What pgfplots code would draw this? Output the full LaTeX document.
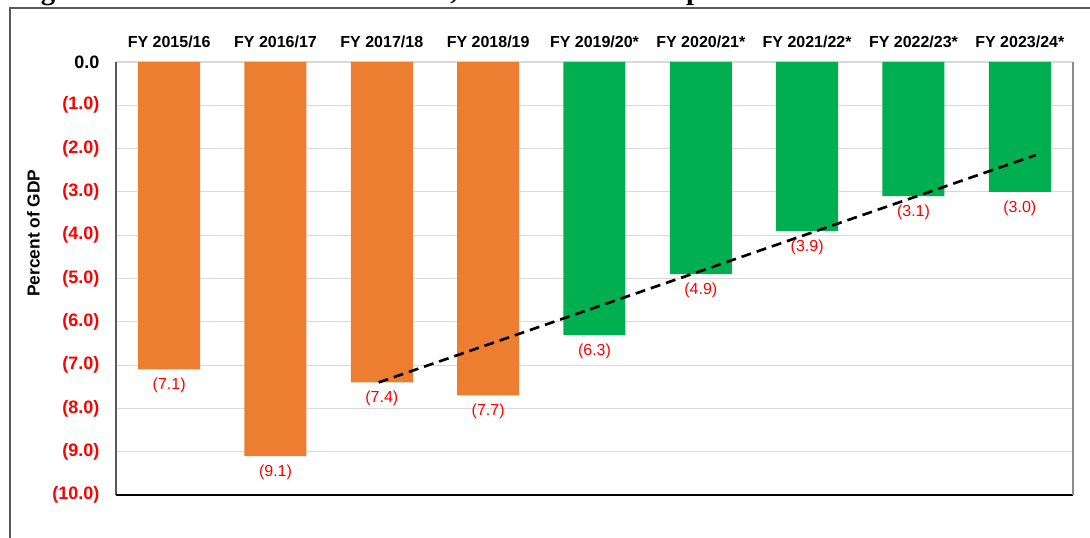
\documentclass[border=0pt]{standalone}
\usepackage{fontspec}
\setmainfont{Liberation Sans}
\newfontfamily\titleserif{Liberation Serif}
\usepackage{pgfplots}
\usepackage{pgfplotstable}
\pgfplotsset{compat=1.18}
\definecolor{barorange}{HTML}{ED7D31}
\definecolor{bargreen}{HTML}{00B050}
\definecolor{gridgray}{HTML}{D9D9D9}
\definecolor{framegray}{HTML}{595959}
\pgfplotstableread{
x y lab
0 -7.1 (7.1)
1 -9.1 (9.1)
2 -7.4 (7.4)
3 -7.7 (7.7)
}\orangedata
\pgfplotstableread{
x y lab
4 -6.3 (6.3)
5 -4.9 (4.9)
6 -3.9 (3.9)
7 -3.1 (3.1)
8 -3.0 (3.0)
}\greendata
\begin{document}
\begin{tikzpicture}
\useasboundingbox (0,0) rectangle (817.5pt,402.75pt);
% partially visible title (cut off by the page edge, as in the reference)
\node[anchor=base west, inner sep=0pt, font=\titleserif\bfseries\fontsize{21.5}{24}\selectfont] at (11.25pt,403.4pt)
  {Figure 1: Fiscal Consolidation Path, Fiscal Deficit as a percent of GDP};
% outer frame
\draw[framegray, line width=1.5pt] (7.5pt,-3pt) -- (7.5pt,396.75pt) -- (825pt,396.75pt);
\begin{axis}[
  at={(87pt,31.5pt)}, anchor=south west,
  scale only axis, width=717.75pt, height=324.75pt,
  xmin=-0.5, xmax=8.5, ymin=-10, ymax=0,
  axis line style={draw=none},
  xtick={0,...,8},
  xticklabels={FY 2015/16,FY 2016/17,FY 2017/18,FY 2018/19,FY 2019/20*,FY 2020/21*,FY 2021/22*,FY 2022/23*,FY 2023/24*},
  xticklabel pos=upper,
  xticklabel style={font=\bfseries\fontsize{12}{14}\selectfont, yshift=3pt},
  ytick={-10,...,0},
  yticklabels={(10.0),(9.0),(8.0),(7.0),(6.0),(5.0),(4.0),(3.0),(2.0),(1.0),\textcolor{black}{0.0}},
  yticklabel style={font=\bfseries\fontsize{13.5}{15}\selectfont, text=red, xshift=-9pt},
  tick style={draw=none},
  ymajorgrids, grid style={gridgray, line width=0.8pt},
  ylabel={Percent of GDP},
  ylabel style={font=\bfseries\fontsize{13}{15}\selectfont, at={(rel axis cs:0,0.605)}, anchor=center, rotate=0, yshift=62pt},
  ybar, bar width=46.5pt, bar shift=0pt,
  nodes near coords={\pgfplotspointmeta},
  point meta=explicit symbolic,
  every node near coord/.append style={font=\fontsize{12}{14}\selectfont, text=red, anchor=north, yshift=-3pt},
  clip=false,
  after end axis/.code={
    \draw[framegray, line width=1pt] (rel axis cs:0,0) -- (rel axis cs:0,1);
    \draw[black, line width=1.2pt] (rel axis cs:0,0) -- (rel axis cs:1,0);
    \draw[gray!90, line width=1.6pt] (rel axis cs:1,0) -- (rel axis cs:1,1);
  },
]
\addplot[fill=barorange, draw=none] table[x=x, y=y, meta=lab] {\orangedata};
\addplot[fill=bargreen, draw=none] table[x=x, y=y, meta=lab] {\greendata};
\addplot[sharp plot, black, line width=2pt, dash pattern=on 7.5pt off 4.5pt, nodes near coords={}, mark=none] coordinates {(1.97,-7.4) (8.15,-2.15)};
\end{axis}
\end{tikzpicture}
\end{document}
